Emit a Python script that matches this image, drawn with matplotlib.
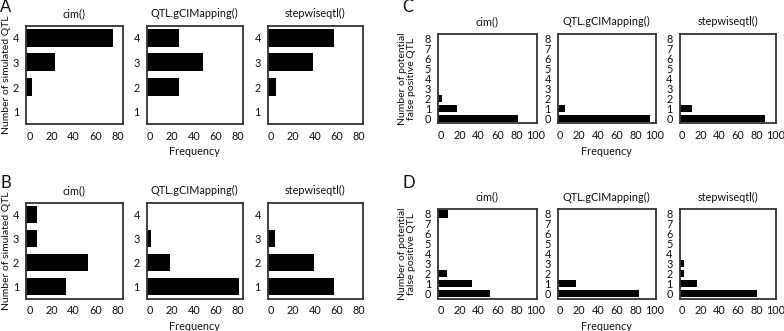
import numpy as np
import matplotlib
matplotlib.use('Agg')
import matplotlib.pyplot as plt

plt.rcParams['font.family'] = ['Lato', 'DejaVu Sans']

W, H = 784, 331

methods = ['cim()', 'QTL.gCIMapping()', 'stepwiseqtl()']

# panels A/B: number of simulated QTL detected
sim_qtl = [1, 2, 3, 4]
a_cim = [0, 2, 23, 75]
a_qtlg = [0, 26, 48, 26]
a_step = [0, 5, 38, 57]
b_cim = [33, 53, 7, 7]
b_qtlg = [81, 18, 1, 0]
b_step = [57, 39, 4, 0]

# panels C/D: number of potential false positive QTL
fp_qtl = [0, 1, 2, 3, 4, 5, 6, 7, 8]
c_cim = [81, 17, 2, 0, 0, 0, 0, 0, 0]
c_qtlg = [95, 5, 0, 0, 0, 0, 0, 0, 0]
c_step = [89, 11, 0, 0, 0, 0, 0, 0, 0]
d_cim = [52, 33, 7, 0, 0, 0, 0, 0, 8]
d_qtlg = [83, 17, 0, 0, 0, 0, 0, 0, 0]
d_step = [80, 16, 2, 2, 0, 0, 0, 0, 0]

fig = plt.figure(figsize=(W / 100, H / 100), dpi=100)
TXT = '#111111'
FS = 7.8


def px_axes(left, top, right, bottom):
    return fig.add_axes([left / W, 1 - bottom / H, (right - left) / W, (bottom - top) / H])


def bar_panel(ax, cats, vals, xlim, xticks, title, bar_h):
    cats = np.array(cats)
    vals = np.array(vals, dtype=float)
    keep = vals > 0
    # bars run from the left frame edge, as in the original
    ax.barh(cats[keep], vals[keep] - xlim[0], left=xlim[0], height=bar_h, color='black')
    ax.set_xlim(*xlim)
    ax.set_ylim(cats[0] - 0.5, cats[-1] + 0.5)
    ax.set_xticks(xticks)
    ax.set_yticks(cats)
    ax.tick_params(length=0, labelsize=FS, pad=5, colors=TXT)
    ax.tick_params(axis='x', pad=5)
    for s in ax.spines.values():
        s.set_color('#333333')
        s.set_linewidth(1.3)
    ax.set_title(title, fontsize=FS, pad=6, color=TXT)


ab_x = [(26, 122.5), (146.7, 242.7), (267.7, 363.3)]
cd_x = [(438, 536.5), (557.7, 655.5), (679.5, 776)]
rows = [
    ('A', ab_x, (25.5, 124), sim_qtl, [a_cim, a_qtlg, a_step], (-3, 84), [0, 20, 40, 60, 80], 0.73,
     'Number of simulated QTL'),
    ('B', ab_x, (202.5, 298.5), sim_qtl, [b_cim, b_qtlg, b_step], (-3, 84), [0, 20, 40, 60, 80], 0.73,
     'Number of simulated QTL'),
    ('C', cd_x, (33.5, 123.5), fp_qtl, [c_cim, c_qtlg, c_step], (-2.5, 100.5), [0, 20, 40, 60, 80, 100], 0.74,
     'Number of potential\nfalse positive QTL'),
    ('D', cd_x, (209, 298.5), fp_qtl, [d_cim, d_qtlg, d_step], (-2.5, 100.5), [0, 20, 40, 60, 80, 100], 0.74,
     'Number of potential\nfalse positive QTL'),
]

for letter, xs, (top, bottom), cats, series, xlim, xticks, bh, ylab in rows:
    axes = []
    for (l, r), vals, m in zip(xs, series, methods):
        ax = px_axes(l, top, r, bottom)
        bar_panel(ax, cats, vals, xlim, xticks, m, bh)
        axes.append(ax)
    axes[1].set_xlabel('Frequency', fontsize=FS, color=TXT, labelpad=3)
    left_side = letter in 'AB'
    yl_x = 6.5 if left_side else 407
    fig.text(yl_x / W, 1 - (top + bottom) / 2 / H, ylab, rotation=90, fontsize=7.5,
             ha='center', va='center', color=TXT, linespacing=1.05)
    lx = 0 if left_side else 402
    ly = top - 19 if left_side else top - 26
    fig.text(lx / W, 1 - ly / H, letter, fontsize=12, ha='left', va='center', color='#111111')

fig.savefig('out.png', dpi=100)
